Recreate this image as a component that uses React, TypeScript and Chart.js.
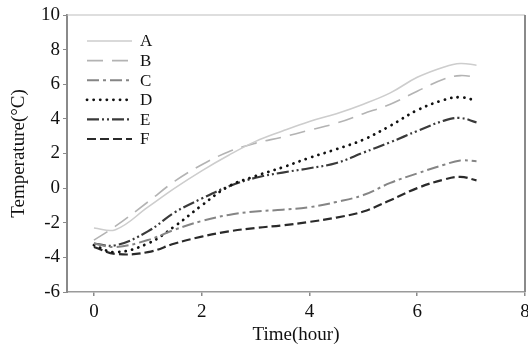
import React, { useEffect, useRef } from "react";
import { Chart, registerables } from "chart.js";

Chart.register(...registerables);

const times = [0, 0.4, 1, 1.5, 2, 2.5, 3, 3.5, 4, 4.5, 5, 5.5, 6, 6.5, 6.8, 7.1];
const seriesA = [-2.3, -2.4, -1.1, 0.0, 1.0, 1.9, 2.7, 3.3, 3.85, 4.3, 4.85, 5.5, 6.4, 7.0, 7.2, 7.1];
const seriesB = [-3.0, -2.2, -0.8, 0.4, 1.35, 2.1, 2.6, 2.95, 3.35, 3.75, 4.3, 4.85, 5.6, 6.3, 6.5, 6.4];
const seriesC = [-3.2, -3.4, -3.0, -2.4, -1.9, -1.55, -1.35, -1.25, -1.1, -0.8, -0.4, 0.3, 0.85, 1.35, 1.6, 1.55];
const seriesD = [-3.3, -3.7, -3.2, -2.2, -1.0, 0.1, 0.7, 1.2, 1.75, 2.25, 2.8, 3.6, 4.5, 5.1, 5.25, 5.05];
const seriesE = [-3.2, -3.3, -2.5, -1.4, -0.6, 0.1, 0.6, 0.9, 1.15, 1.45, 2.05, 2.65, 3.3, 3.9, 4.05, 3.8];
const seriesF = [-3.4, -3.8, -3.7, -3.2, -2.8, -2.5, -2.3, -2.15, -1.95, -1.7, -1.35, -0.7, 0.0, 0.5, 0.65, 0.45];
const seriesLabels = ["A", "B", "C", "D", "E", "F"];
const xTicks = [0, 2, 4, 6, 8];
const yTicks = [-6, -4, -2, 0, 2, 4, 6, 8, 10];

const styles = [
  { color: "#cdcdcd", dash: [] as number[], width: 1.6, cap: "butt" },
  { color: "#b3b3b3", dash: [16, 9], width: 1.6, cap: "butt" },
  { color: "#858585", dash: [12, 4, 3, 4], width: 2, cap: "butt" },
  { color: "#111111", dash: [0.1, 6.5], width: 2.8, cap: "round" },
  { color: "#3a3a3a", dash: [12, 3, 2, 3, 2, 3], width: 2.2, cap: "butt" },
  { color: "#2a2a2a", dash: [9, 4], width: 2.2, cap: "butt" },
];

const FONT = "'Liberation Serif', 'Times New Roman', serif";

const framePlugin = {
  id: "frame",
  afterDatasetsDraw(chart: any) {
    const { ctx, chartArea } = chart;
    ctx.save();
    ctx.strokeStyle = "#bdbdbd";
    ctx.lineWidth = 1.2;
    ctx.beginPath();
    ctx.moveTo(chartArea.left, chartArea.top);
    ctx.lineTo(chartArea.right, chartArea.top);
    ctx.stroke();
    ctx.strokeStyle = "#8a8a8a";
    ctx.lineWidth = 2;
    ctx.beginPath();
    ctx.moveTo(chartArea.right, chartArea.top);
    ctx.lineTo(chartArea.right, chartArea.bottom);
    ctx.stroke();
    // legend
    const x0 = chartArea.left + 20;
    const x1 = chartArea.left + 65;
    const tx = chartArea.left + 73;
    chart.data.datasets.forEach((ds: any, i: number) => {
      const y = chartArea.top + 26 + i * 19.6;
      ctx.strokeStyle = ds.borderColor;
      ctx.lineWidth = ds.borderWidth;
      ctx.lineCap = ds.borderCapStyle;
      ctx.setLineDash(ds.borderDash);
      ctx.beginPath();
      ctx.moveTo(x0, y);
      ctx.lineTo(x1, y);
      ctx.stroke();
      ctx.setLineDash([]);
      ctx.lineCap = "butt";
      ctx.fillStyle = "#111";
      ctx.font = `17px ${FONT}`;
      ctx.textBaseline = "middle";
      ctx.textAlign = "left";
      ctx.fillText(ds.label, tx, y + 1);
    });
    ctx.restore();
  },
};

export default function App() {
  const ref = useRef<HTMLCanvasElement>(null);
  useEffect(() => {
    if (!ref.current) return;
    const all = [seriesA, seriesB, seriesC, seriesD, seriesE, seriesF];
    const chart = new Chart(ref.current, {
      type: "line",
      data: {
        datasets: all.map((s, i) => ({
          label: seriesLabels[i],
          data: s.map((v, j) => ({ x: times[j], y: v })),
          borderColor: styles[i].color,
          borderDash: styles[i].dash,
          borderWidth: styles[i].width,
          borderCapStyle: styles[i].cap as any,
          pointRadius: 0,
          tension: 0.4,
          fill: false,
        })),
      },
      options: {
        animation: false,
        responsive: false,
        maintainAspectRatio: false,
        layout: { padding: { top: 15, right: 3, left: 0, bottom: 0 } },
        plugins: { legend: { display: false }, tooltip: { enabled: false } },
        scales: {
          x: {
            type: "linear",
            min: -0.5,
            max: 8,
            afterBuildTicks: (scale: any) => {
              scale.ticks = xTicks.map((v) => ({ value: v }));
            },
            afterFit: (scale: any) => {
              scale.height = 57;
              scale.paddingRight = 0;
              scale.paddingLeft = 0;
            },
            grid: { display: true, drawOnChartArea: false, drawTicks: true, tickLength: 4, color: "#8a8a8a", lineWidth: 1.5 },
            border: { display: true, color: "#9a9a9a", width: 1.6 },
            ticks: { color: "#111", font: { family: FONT, size: 19 }, padding: 5, maxRotation: 0, autoSkip: false },
            title: { display: true, text: "Time(hour)", color: "#111", font: { family: FONT, size: 19 }, padding: { top: 0, bottom: 3 } },
          },
          y: {
            type: "linear",
            min: -6,
            max: 10,
            afterBuildTicks: (scale: any) => {
              scale.ticks = yTicks.map((v) => ({ value: v }));
            },
            afterFit: (scale: any) => {
              scale.width = 67;
              scale.paddingTop = 0;
              scale.paddingBottom = 0;
            },
            grid: { display: true, drawOnChartArea: false, drawTicks: true, tickLength: 4, color: "#8a8a8a", lineWidth: 1 },
            border: { display: true, color: "#8a8a8a", width: 2 },
            ticks: { color: "#111", font: { family: FONT, size: 19 }, padding: 3 },
            title: { display: true, text: "Temperature(°C)", color: "#111", font: { family: FONT, size: 19 }, padding: { top: 8, bottom: 0 } },
          },
        },
      },
      plugins: [framePlugin],
    });
    return () => chart.destroy();
  }, []);
  return (
    <div style={{ position: "absolute", left: 0, top: 0, width: 528, height: 349, background: "#fff" }}>
      <canvas ref={ref} width={528} height={349} style={{ display: "block" }} />
    </div>
  );
}
